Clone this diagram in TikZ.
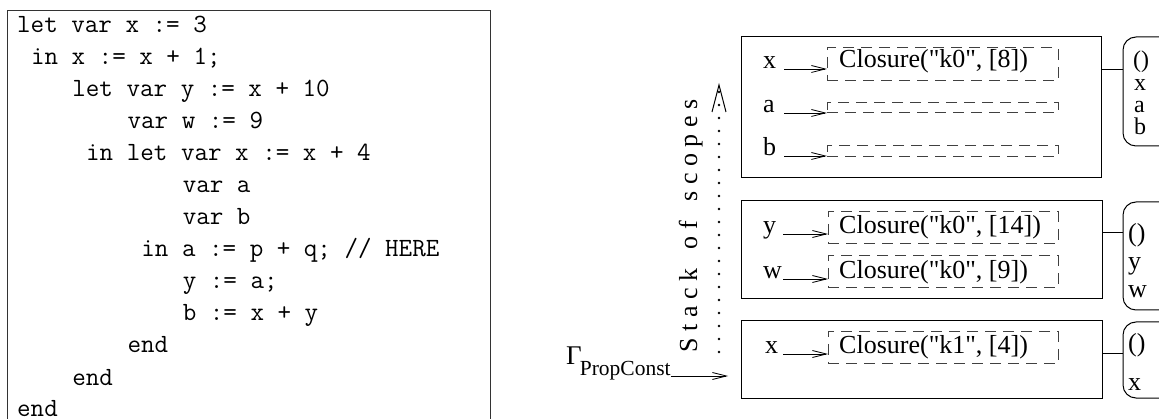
\documentclass[tikz,border=0pt]{standalone}
\usepackage{fontspec}
\setmainfont{Liberation Serif}[Ligatures=TeXOff]
\usetikzlibrary{arrows.meta}
\newcommand\lsp{\hspace{6.5pt}}
\tikzset{
  code/.style={font=\ttfamily\fontsize{26.3}{30}\selectfont, anchor=base west, inner sep=0pt},
  lbl/.style={font=\fontsize{26}{28}\selectfont, anchor=base west, inner sep=0pt},
  smalllbl/.style={font=\fontsize{24}{26}\selectfont, anchor=base west, inner sep=0pt},
  scopebox/.style={draw, line width=1pt, anchor=north west, inner sep=0pt, outer sep=0pt},
  dbox/.style={draw=black!75, dash pattern=on 11pt off 7pt, line width=1pt, anchor=north west, inner sep=0pt, outer sep=0pt},
  rbox/.style={draw, line width=1pt, rounded corners=13pt, anchor=north west, inner sep=0pt, outer sep=0pt, minimum width=60pt},
  arr/.style={-{Straight Barb[length=14pt,width=7pt]}, line width=0.8pt},
  link/.style={line width=1pt},
}
\begin{document}
\begin{tikzpicture}[x=1pt,y=-1pt]
\useasboundingbox (0,0) rectangle (1159,419);
\clip (0,0) rectangle (1159,419);
% code box
\node[draw=black!80, line width=1.2pt, anchor=north west, inner sep=0pt, minimum width=483pt, minimum height=440pt] (codebox) at (7,10) {};
\node[code] (c1)  at (17+0*13.8, 33) {let var x := 3};
\node[code] (c2)  at (17+1*13.8, 65) {in x := x + 1;};
\node[code] (c3)  at (17+4*13.8, 97) {let var y := x + 10};
\node[code] (c4)  at (17+8*13.8, 129) {var w := 9};
\node[code] (c5)  at (17+5*13.8, 161) {in let var x := x + 4};
\node[code] (c6)  at (17+12*13.8, 193) {var a};
\node[code] (c7)  at (17+12*13.8, 225) {var b};
\node[code] (c8)  at (17+9*13.8, 257) {in a := p + q; // HERE};
\node[code] (c9)  at (17+12*13.8, 289) {y := a;};
\node[code] (c10) at (17+12*13.8, 321) {b := x + y};
\node[code] (c11) at (17+8*13.8, 353) {end};
\node[code] (c12) at (17+4*13.8, 385) {end};
\node[code] (c13) at (17+0*13.8, 416) {end};

% scope boxes
\node[scopebox, minimum width=360pt, minimum height=141pt] (s1) at (741,37) {};
\node[scopebox, minimum width=361pt, minimum height=98pt] (s2) at (741,201) {};
\node[scopebox, minimum width=361pt, minimum height=77pt] (s3) at (741,321) {};

% rounded boxes
\node[rbox, minimum height=109pt] (r1) at (1123,37) {};
\node[rbox, minimum height=108pt] (r2) at (1123,202) {};
\node[rbox, minimum height=76pt] (r3) at (1123,322) {};
\node[smalllbl] (r1a) at (1133,68) {()};
\node[smalllbl] (r1b) at (1134,91) {x};
\node[smalllbl] (r1c) at (1134,113) {a};
\node[smalllbl] (r1d) at (1134,135) {b};
\node[lbl] (r2a) at (1128,242) {()};
\node[lbl] (r2b) at (1128,270) {y};
\node[lbl] (r2c) at (1128,298) {w};
\node[lbl] (r3a) at (1128,352) {()};
\node[lbl] (r3b) at (1128,390) {x};

\coordinate (k1) at (1101,70);
\coordinate (k2) at (1101,233);
\coordinate (k3) at (1101,354);
\draw[link] (s1.east |- k1) -- (r1.west |- k1);
\draw[link] (s2.east |- k2) -- (r2.west |- k2);
\draw[link] (s3.east |- k3) -- (r3.west |- k3);

% scope 1 rows
\node[dbox, minimum width=231pt, minimum height=33pt] (d1) at (827,48) {};
\node[dbox, minimum width=231pt, minimum height=10pt] (d2) at (827,103) {};
\node[dbox, minimum width=231pt, minimum height=11pt] (d3) at (827,146) {};
\node[lbl] (t1) at (839,68) {Closure("k0", [8])};
\node[lbl] (v1) at (763,69) {x};
\node[lbl] (v2) at (763,113) {a};
\node[lbl] (v3) at (763,156) {b};
\draw[arr] ([xshift=-43pt]d1.west |- v1.base) -- (d1.west |- v1.base);
\draw[arr] ([xshift=-43pt]d2.west |- v2.base) -- (d2.west |- v2.base);
\draw[arr] ([xshift=-43pt]d3.west |- v3.base) -- (d3.west |- v3.base);

% scope 2 rows
\node[dbox, minimum width=230pt, minimum height=32pt] (d4) at (828,212) {};
\node[dbox, minimum width=230pt, minimum height=32pt] (d5) at (828,256) {};
\node[lbl] (t4) at (839,234) {Closure("k0", [14])};
\node[lbl] (t5) at (839,279) {Closure("k0", [9])};
\node[lbl] (v4) at (763,234) {y};
\node[lbl] (v5) at (763,279) {w};
\draw[arr] ([xshift=-45pt]d4.west |- v4.base) -- (d4.west |- v4.base);
\draw[arr] ([xshift=-45pt]d5.west |- v5.base) -- (d5.west |- v5.base);

% scope 3 row
\node[dbox, minimum width=230pt, minimum height=32pt] (d6) at (828,332) {};
\node[lbl] (t6) at (839,354) {Closure("k1", [4])};
\node[lbl] (v6) at (765,354) {x};
\draw[arr] ([xshift=-45pt]d6.west |- v6.base) -- (d6.west |- v6.base);

% Gamma
\node[lbl, font=\fontsize{27}{28}\selectfont] (gamma) at (566,365) {Γ\kern-2pt\raisebox{-11pt}{\fontsize{21.5}{22}\selectfont PropConst}};
\coordinate (gt) at (728,376);
\draw[arr] (gamma.east |- gt) -- (gt);

% stack of scopes
\node[font=\fontsize{26}{28}\selectfont, rotate=90, anchor=base, inner sep=0pt] (stk) at (697,226)
  {S\lsp t\lsp a\lsp c\lsp k\lsp\ \lsp o\lsp f\lsp\ \lsp s\lsp c\lsp o\lsp p\lsp e\lsp s};
\coordinate (sb) at (719,352);
\coordinate (st) at (719,83);
\draw[line width=2.6pt, line cap=round, dash pattern=on 0pt off 13pt, -{Straight Barb[length=27pt,width=14pt,line width=1pt]}] (sb) -- (st);
\end{tikzpicture}
\end{document}
